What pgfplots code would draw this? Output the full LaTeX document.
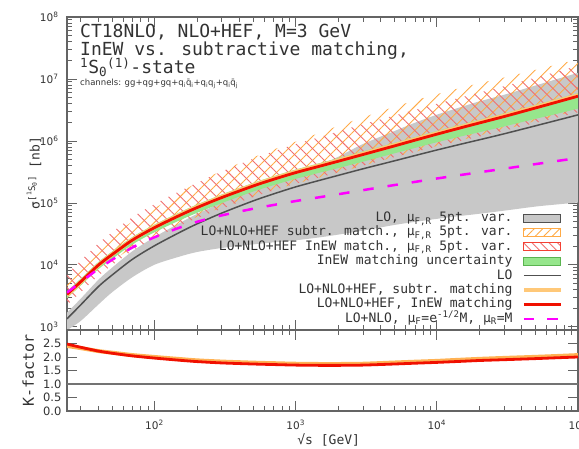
\documentclass[border=0pt]{standalone}
\usepackage{fontspec}
\setmainfont{DejaVu Sans}
\newfontfamily\monofont{DejaVu Sans Mono}
\usepackage{pgfplots}
\pgfplotsset{compat=1.18}
\usepackage{pgfplotstable}
\usepgfplotslibrary{fillbetween}
\usetikzlibrary{patterns.meta}

\definecolor{textcol}{RGB}{50,50,50}
\definecolor{axiscol}{RGB}{100,100,100}
\definecolor{grayfill}{RGB}{200,200,200}
\definecolor{locol}{RGB}{80,80,80}
\definecolor{redcol}{RGB}{240,16,0}
\definecolor{subtrcol}{RGB}{255,200,120}
\definecolor{hatchor}{RGB}{255,170,70}
\definecolor{hatchred}{RGB}{240,110,110}
\definecolor{greencol}{RGB}{150,230,140}
\definecolor{greenedge}{RGB}{90,180,80}
\definecolor{magcol}{RGB}{255,0,255}

\newcommand\titlefont{\monofont\fontsize{18}{18}\selectfont}
\newcommand\legfont{\monofont\fontsize{13}{14}\selectfont}
\newcommand\labfont{\monofont\fontsize{13}{14}\selectfont}
\newcommand\kfont{\monofont\fontsize{15}{16}\selectfont}
\newcommand\tickfont{\fontsize{10.5}{12}\selectfont}
\newcommand\ktickfont{\fontsize{11.5}{13}\selectfont}
\newcommand\chanfont{\fontsize{8.5}{10}\selectfont}

\pgfplotstableread{
x R LO O M GB GT GRT GRB OHT OHB RHT RHB K KO
24 3342 1348 3249 3573 885 1697 3750 2911 5942 2781 7145 2259 2.48 2.41
30 5333 2260 5266 5272 1245 2845 5984 4645 9930 4336 11670 3605 2.36 2.33
40 9886 4453 9886 8590 2286 5736 11090 8512 18830 7850 22130 6683 2.22 2.22
50 14620 6832 14760 12050 3606 9005 16400 12440 28510 11350 33490 9883 2.14 2.16
70 25230 12370 25610 19190 6368 16690 28310 21470 50330 19150 59140 17060 2.04 2.07
100 39900 20360 40720 27930 10050 28100 44770 33560 81480 29570 95720 26970 1.96 2.00
150 62520 33260 64030 39810 13580 47000 70150 52020 143200 45260 153500 42260 1.88 1.925
200 83950 45870 86010 49550 16140 66280 94190 69010 210900 59440 210900 56750 1.83 1.875
300 122200 68650 125600 62950 18750 101500 137100 99350 329000 84560 321400 80770 1.78 1.83
500 187500 107800 193000 80540 21430 163200 210400 152400 540800 126800 516400 123900 1.74 1.79
700 241000 140100 248000 92680 23120 217000 270400 193800 727800 162900 679100 159300 1.72 1.77
1000 308300 181400 317500 107200 24950 294200 345900 244800 974800 203800 889100 203800 1.70 1.75
1500 394500 233400 406100 124200 27930 415000 442600 309700 1.368e6 260800 1.164e6 260800 1.69 1.74
2000 469900 278000 483700 138000 30760 554600 527200 364600 1.746e6 310600 1.419e6 310600 1.69 1.74
3000 603900 355200 621600 160700 35730 892300 677600 463200 2.404e6 399200 1.866e6 399200 1.70 1.75
5000 829900 477000 856200 194100 44060 1.441e6 931200 629900 3.540e6 548600 2.564e6 548600 1.74 1.795
7000 1.028e6 580800 1.060e6 218300 49430 1.968e6 1.153e6 771000 4.487e6 664100 3.177e6 664100 1.77 1.825
10000 1.285e6 713900 1.324e6 247700 55340 2.652e6 1.442e6 952200 5.675e6 830100 3.971e6 810800 1.80 1.855
15000 1.644e6 893500 1.698e6 283800 61940 3.557e6 1.845e6 1.190e6 7.260e6 1.037e6 5.080e6 1.014e6 1.84 1.90
20000 1.950e6 1.043e6 2.013e6 311900 66830 4.348e6 2.188e6 1.381e6 8.512e6 1.230e6 6.026e6 1.176e6 1.87 1.93
30000 2.477e6 1.304e6 2.562e6 356500 74990 5.563e6 2.779e6 1.714e6 1.057e7 1.528e6 7.654e6 1.459e6 1.90 1.965
50000 3.404e6 1.755e6 3.519e6 422700 87300 7.840e6 3.819e6 2.274e6 1.403e7 2.100e6 1.052e7 1.957e6 1.94 2.005
70000 4.207e6 2.136e6 4.347e6 472100 94190 9.877e6 4.720e6 2.718e6 1.694e7 2.537e6 1.300e7 2.364e6 1.97 2.035
100000 5.272e6 2.636e6 5.457e6 530900 101600 1.256e7 5.915e6 3.327e6 2.075e7 3.179e6 1.629e7 2.900e6 2.00 2.07
}\data

\begin{document}
\begin{tikzpicture}
\begin{axis}[
  name=main, at={(0pt,0pt)}, anchor=south west,
  scale only axis, width=511pt, height=313pt,
  xmode=log, ymode=log, xmin=24, xmax=100000, ymin=890, ymax=1e8,
  axis line style={axiscol, line width=1.1pt},
  tick align=inside, major tick length=10pt, minor tick length=5pt,
  every tick/.style={axiscol, line width=0.8pt},
  xtick={100,1000,10000,100000}, xticklabels={},
  minor xtick={30,40,50,60,70,80,90,200,300,400,500,600,700,800,900,2000,3000,4000,5000,6000,7000,8000,9000,20000,30000,40000,50000,60000,70000,80000,90000},
  ytick={1e3,1e4,1e5,1e6,1e7,1e8},
  yticklabels={10\textsuperscript{3},10\textsuperscript{4},10\textsuperscript{5},10\textsuperscript{6},10\textsuperscript{7},10\textsuperscript{8}},
  minor ytick={2e3,3e3,4e3,5e3,6e3,7e3,8e3,9e3,2e4,3e4,4e4,5e4,6e4,7e4,8e4,9e4,2e5,3e5,4e5,5e5,6e5,7e5,8e5,9e5,2e6,3e6,4e6,5e6,6e6,7e6,8e6,9e6,2e7,3e7,4e7,5e7,6e7,7e7,8e7,9e7},
  yticklabel style={font=\tickfont, text=textcol, xshift=-5pt},
  legend style={at={(axis description cs:0.9706,0.3776)}, anchor=north east, draw=none, fill=none, inner sep=0pt, font=\legfont, text=textcol, row sep=2.4pt, column sep=9.3pt, nodes={inner sep=0pt, text height=9.5pt, text depth=2.5pt}},
  legend cell align=right, legend plot pos=right,
]
\addplot[draw=none, forget plot, name path=gt, smooth] table[x=x,y=GT]{\data};
\addplot[draw=none, forget plot, name path=gb, smooth] table[x=x,y=GB]{\data};
\addplot[fill=grayfill, draw=none, forget plot] fill between[of=gt and gb];
\addplot[draw=none, forget plot, name path=oht, smooth] table[x=x,y=OHT]{\data};
\addplot[draw=none, forget plot, name path=ohb, smooth] table[x=x,y=OHB]{\data};
\addplot[pattern={Lines[angle=45,distance=8.5pt,line width=0.9pt]}, pattern color=hatchor, draw=none, forget plot] fill between[of=oht and ohb];
\addplot[draw=none, forget plot, name path=rht, smooth] table[x=x,y=RHT]{\data};
\addplot[draw=none, forget plot, name path=rhb, smooth] table[x=x,y=RHB]{\data};
\addplot[pattern={Lines[angle=-45,distance=8.5pt,line width=0.9pt]}, pattern color=hatchred, draw=none, forget plot] fill between[of=rht and rhb];
\addplot[draw=none, forget plot, name path=grt, smooth] table[x=x,y=GRT]{\data};
\addplot[draw=none, forget plot, name path=grb, smooth] table[x=x,y=GRB]{\data};
\addplot[fill=greencol, draw=none, forget plot] fill between[of=grt and grb];
\addplot[locol, line width=1.5pt, smooth, forget plot] table[x=x,y=LO]{\data};
\addplot[subtrcol, line width=4pt, smooth, forget plot] table[x=x,y=O]{\data};
\addplot[redcol, line width=2.8pt, smooth, forget plot] table[x=x,y=R]{\data};
\addplot[magcol, line width=2.5pt, dash pattern=on 10.5pt off 14pt, smooth, forget plot] table[x=x,y=M]{\data};

\addlegendimage{legend image code/.code={\draw[draw=locol,fill=grayfill,line width=0.8pt] (0pt,-4pt) rectangle (37pt,4pt);}}
\addlegendentry{LO, μ\textsubscript{F,R} 5pt. var.}
\addlegendimage{legend image code/.code={\draw[draw=hatchor,pattern={Lines[angle=45,distance=6pt,line width=0.9pt]},pattern color=hatchor,line width=0.8pt] (0pt,-4pt) rectangle (37pt,4pt);}}
\addlegendentry{LO+NLO+HEF subtr. match., μ\textsubscript{F,R} 5pt. var.}
\addlegendimage{legend image code/.code={\draw[draw=redcol!80,pattern={Lines[angle=-45,distance=6pt,line width=0.9pt]},pattern color=hatchred,line width=0.8pt] (0pt,-4pt) rectangle (37pt,4pt);}}
\addlegendentry{LO+NLO+HEF InEW match., μ\textsubscript{F,R} 5pt. var.}
\addlegendimage{legend image code/.code={\draw[draw=greenedge,fill=greencol,line width=0.8pt] (0pt,-4pt) rectangle (37pt,4pt);}}
\addlegendentry{InEW matching uncertainty}
\addlegendimage{legend image code/.code={\draw[locol,line width=1.5pt] (0pt,0pt) -- (37pt,0pt);}}
\addlegendentry{LO}
\addlegendimage{legend image code/.code={\draw[subtrcol,line width=4pt] (0pt,0pt) -- (37pt,0pt);}}
\addlegendentry{LO+NLO+HEF, subtr. matching}
\addlegendimage{legend image code/.code={\draw[redcol,line width=2.8pt] (0pt,0pt) -- (37pt,0pt);}}
\addlegendentry{LO+NLO+HEF, InEW matching}
\addlegendimage{legend image code/.code={\draw[magcol,line width=2.5pt,dash pattern=on 10.5pt off 13pt] (0pt,0pt) -- (37pt,0pt);}}
\addlegendentry{LO+NLO, μ\textsubscript{F}=e\textsuperscript{-1/2}M, μ\textsubscript{R}=M}
\end{axis}

\begin{axis}[
  name=kax, at={(main.south west)}, anchor=north west,
  scale only axis, width=511pt, height=81pt,
  xmode=log, xmin=24, xmax=100000, ymin=0, ymax=3,
  axis line style={axiscol, line width=1.1pt},
  tick align=inside, major tick length=10pt, minor tick length=5pt,
  every tick/.style={axiscol, line width=0.8pt},
  xtick={100,1000,10000,100000},
  xticklabels={10\textsuperscript{2},10\textsuperscript{3},10\textsuperscript{4},10\textsuperscript{5}},
  minor xtick={30,40,50,60,70,80,90,200,300,400,500,600,700,800,900,2000,3000,4000,5000,6000,7000,8000,9000,20000,30000,40000,50000,60000,70000,80000,90000},
  ytick={0,0.5,1,1.5,2,2.5,3},
  yticklabels={0.0,0.5,1.0,1.5,2.0,2.5,{}},
  xticklabel style={font=\tickfont, text=textcol, yshift=-6pt},
  yticklabel style={font=\ktickfont, text=textcol, xshift=-2pt},
]
\addplot[locol!80, line width=1.5pt] coordinates {(24,1) (100000,1)};
\addplot[subtrcol!70!orange, line width=4pt, smooth] table[x=x,y=KO]{\data};
\addplot[redcol, line width=2.8pt, smooth] table[x=x,y=K]{\data};
\end{axis}

\node[font=\titlefont, text=textcol, anchor=base west, inner sep=0pt] at (13pt,292.3pt) {CT18NLO, NLO+HEF, M=3 GeV};
\node[font=\titlefont, text=textcol, anchor=base west, inner sep=0pt] at (13pt,274pt) {InEW vs. subtractive matching,};
\node[font=\titlefont, text=textcol, anchor=base west, inner sep=0pt] at (13pt,256.5pt) {\textsuperscript{1}S\textsubscript{0}\textsuperscript{(1)}-state};
\node[font=\chanfont, text=textcol, anchor=base west, inner sep=0pt] at (13pt,244.7pt) {channels: gg+qg+gq+q\textsubscript{i}\={q}\textsubscript{i}+q\textsubscript{i}q\textsubscript{j}+q\textsubscript{i}\={q}\textsubscript{j}};
\node[font=\labfont, text=textcol, rotate=90, inner sep=0pt] at (-33pt,157pt) {σ\textsuperscript{[\textsuperscript{1}S\textsubscript{0}]} [nb]};
\node[font=\kfont, text=textcol, rotate=90, inner sep=0pt] at (-38.7pt,-40.5pt) {K-factor};
\node[font=\labfont, text=textcol, anchor=base, inner sep=0pt] at (261.7pt,-115pt) {√s [GeV]};

\pgfresetboundingbox
\useasboundingbox (-67pt,-119pt) rectangle (512pt,330pt);
\end{tikzpicture}
\end{document}
